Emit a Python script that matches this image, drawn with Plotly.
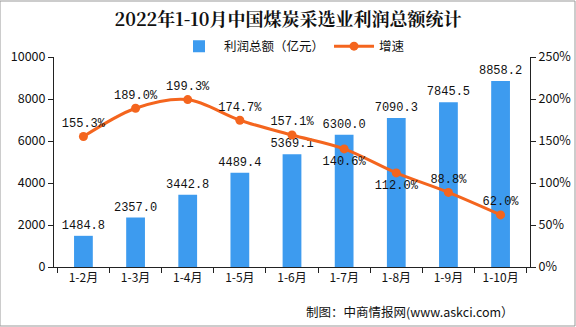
import plotly.graph_objects as go
from plotly.subplots import make_subplots

categories = ["1-2月", "1-3月", "1-4月", "1-5月", "1-6月", "1-7月", "1-8月", "1-9月", "1-10月"]
profit = [1484.8, 2357.0, 3442.8, 4489.4, 5369.1, 6300.0, 7090.3, 7845.5, 8858.2]
growth = [155.3, 189.0, 199.3, 174.7, 157.1, 140.6, 112.0, 88.8, 62.0]
growth_pos = ["top center", "top center", "top center", "top center", "top center",
              "bottom center", "bottom center", "top center", "top center"]

BLUE = "#3D9BEF"
ORANGE = "#F4651E"
FONT = "Noto Sans CJK SC"
MONO = "Liberation Mono"

fig = make_subplots(specs=[[{"secondary_y": True}]])
fig.add_trace(go.Bar(
    x=categories, y=profit, name="利润总额（亿元）",
    marker=dict(color=BLUE, line=dict(width=0)),
    text=[f"{v:.1f}" for v in profit], textposition="outside", constraintext="none",
    textfont=dict(family=MONO, size=12, color="#111"), cliponaxis=False,
), secondary_y=False)
fig.add_trace(go.Scatter(
    x=categories, y=growth, name="增速", mode="lines+markers+text",
    line=dict(color=ORANGE, width=3, shape="spline", smoothing=0.9),
    marker=dict(color=ORANGE, size=9),
    text=[f"{v:.1f}%" for v in growth], textposition=growth_pos,
    textfont=dict(family=MONO, size=12, color="#111"), cliponaxis=False,
), secondary_y=True)

fig.update_layout(
    width=576, height=327,
    margin=dict(l=54, r=46, t=57, b=60, autoexpand=False),
    paper_bgcolor="white", plot_bgcolor="white",
    font=dict(family=FONT, size=12, color="#111"),
    title=dict(text="<b>2022年1-10月中国煤炭采选业利润总额统计</b>",
               x=0.5, xanchor="center", y=0.94, yanchor="middle",
               font=dict(family="Noto Serif CJK SC, " + FONT, size=18, color="#111")),
    legend=dict(orientation="h", x=0.5, xanchor="center", y=1.05, yanchor="middle",
                font=dict(size=12.5), bgcolor="rgba(0,0,0,0)", itemwidth=40),
    bargap=0.64, showlegend=True,
)
fig.update_xaxes(type="category", domain=[0, 1], showline=True, linecolor="#222", linewidth=1,
                 ticks="outside", tickson="boundaries", ticklen=5, tickcolor="#222",
                 tickfont=dict(size=12), showgrid=False, automargin=False)
fig.update_yaxes(range=[0, 10000], dtick=2000, tickformat="d", showline=True, linecolor="#222",
                 ticks="outside", ticklen=5, tickcolor="#222", showgrid=False, automargin=False,
                 zeroline=False, tickfont=dict(size=12.5), secondary_y=False)
fig.update_yaxes(range=[0, 250], dtick=50, ticksuffix="%", showline=True, linecolor="#222",
                 ticks="outside", ticklen=5, tickcolor="#222", showgrid=False, automargin=False,
                 zeroline=False, tickfont=dict(size=12.5), secondary_y=True)

fig.add_annotation(text="制图：中商情报网(www.askci.com）", xref="paper", yref="paper",
                   x=0.748, y=-0.21, xanchor="center", yanchor="middle", showarrow=False,
                   font=dict(size=12.5, color="#111"))
fig.add_shape(type="rect", xref="paper", yref="paper", x0=-54/476, x1=1+45/476,
              y0=-59/210, y1=1+56/210, line=dict(color="#999", width=1))

fig.write_html("out.html")
